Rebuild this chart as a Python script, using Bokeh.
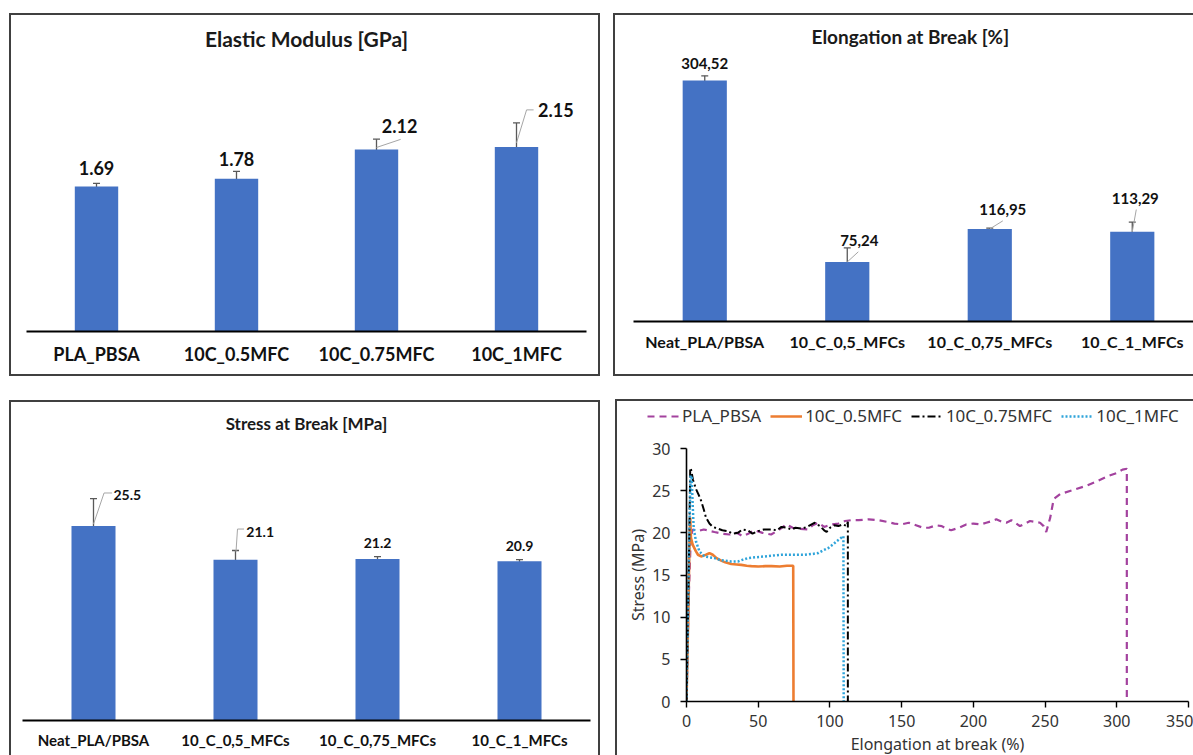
from bokeh.plotting import figure
from bokeh.models import (ColumnDataSource, Range1d, FixedTicker, Whisker, TeeHead,
                          Legend, LegendItem)
from bokeh.embed import file_html
from bokeh.resources import INLINE
from bokeh.core.properties import value

# ---------------- data ----------------
modulus_categories = ["PLA_PBSA", "10C_0.5MFC", "10C_0.75MFC", "10C_1MFC"]
modulus_values = [1.69, 1.78, 2.12, 2.15]
modulus_errors = [0.035, 0.085, 0.12, 0.28]
modulus_labels = ["1.69", "1.78", "2.12", "2.15"]

mfc_categories = ["Neat_PLA/PBSA", "10_C_0,5_MFCs", "10_C_0,75_MFCs", "10_C_1_MFCs"]
elongation_values = [304.52, 75.24, 116.95, 113.29]
elongation_errors = [6.0, 17.7, 1.0, 12.4]
elongation_labels = ["304,52", "75,24", "116,95", "113,29"]

stress_values = [25.5, 21.1, 21.2, 20.9]
stress_errors = [3.6, 1.2, 0.3, 0.2]
stress_labels = ["25.5", "21.1", "21.2", "20.9"]

curve_names = ["PLA_PBSA", "10C_0.5MFC", "10C_0.75MFC", "10C_1MFC"]

pla_strain = [0, 1.5, 3, 4.3, 7.8, 12, 19.5, 25, 30, 35, 39.3, 43, 47.5, 53, 59, 64, 69.7, 74,
              77.9, 84.9, 88, 91.9, 96, 101, 106, 110.5, 115, 120, 127, 134, 140, 145, 150, 155,
              160, 165, 169, 174, 178, 181, 184.5, 190, 195, 200, 205, 209, 213, 216, 220, 223,
              226.5, 230, 232.5, 236, 239.5, 243, 246.5, 249, 250.8, 252.3, 253.6, 256, 260.6,
              270, 279, 286, 293.5, 300, 304, 307, 307]
pla_stress = [0, 12, 19.5, 20.4, 20.2, 20.4, 20.1, 19.9, 19.8, 20.0, 19.6, 19.9, 20.3, 20.0, 19.8,
              20.3, 21.0, 20.6, 20.5, 20.4, 20.9, 21.2, 20.7, 21.0, 21.1, 21.4, 21.5, 21.5, 21.6,
              21.5, 21.3, 21.1, 21.0, 21.2, 20.9, 20.6, 20.6, 20.9, 20.8, 20.5, 20.3, 20.6, 21.0,
              21.1, 21.0, 21.2, 21.4, 21.6, 21.3, 21.2, 21.5, 21.1, 20.8, 21.1, 21.4, 21.3, 21.2,
              20.8, 20.1, 21.0, 21.8, 24.0, 24.6, 25.1, 25.6, 26.1, 26.7, 27.1, 27.5, 27.6, 0]

mfc05_strain = [0, 1.2, 2.2, 2.6, 3.1, 4.3, 6.6, 8, 10.2, 12, 13.6, 16, 18.3, 21, 24.2, 27, 31.2,
                35, 38.2, 42, 45.2, 50, 55, 59.2, 65, 70, 74.4, 74.6]
mfc05_stress = [0, 10, 20, 21.8, 19.4, 18.6, 17.8, 17.4, 17.2, 17.3, 17.4, 17.6, 17.4, 17.0, 16.7,
                16.5, 16.3, 16.25, 16.2, 16.1, 16.05, 16.0, 16.05, 16.05, 16.0, 16.1, 16.1, 0]

mfc075_strain = [0, 1, 2, 2.6, 3.2, 4.5, 6.6, 8.5, 10.2, 12, 13.6, 16, 18.3, 21.8, 25, 28.8, 32,
                 35.8, 39, 42.8, 46, 49.8, 54, 59.2, 63, 66.2, 70, 73.2, 76, 80.2, 84, 89.5, 93,
                 96, 97.7, 100, 103, 105.9, 109, 111.7, 112.5, 112.5]
mfc075_stress = [0, 10, 20, 27.7, 27.5, 26.3, 25.2, 24.5, 23.8, 22.8, 21.8, 21.1, 20.7, 20.5, 20.3,
                 20.2, 19.9, 20.0, 20.4, 20.3, 19.9, 20.2, 20.4, 20.4, 20.3, 20.7, 20.6, 20.4, 20.6,
                 20.5, 20.7, 21.2, 20.8, 20.3, 20.1, 20.6, 20.9, 20.8, 21.0, 20.8, 21.3, 0]

mfc1_strain = [0, 1.2, 2.2, 2.8, 3.6, 4.3, 5, 6.6, 9, 12.5, 16, 19.5, 23, 26.5, 31, 35.8, 39, 42.8,
               48, 54.5, 60, 66.2, 75, 82.5, 88, 91.9, 95, 98.9, 102, 104.7, 107, 109.4, 109.6]
mfc1_stress = [0, 12, 22, 26.8, 26.6, 23.4, 20.6, 19.0, 17.8, 17.2, 17.1, 17.0, 16.8, 16.7, 16.6,
               16.6, 16.8, 17.0, 17.1, 17.2, 17.3, 17.4, 17.4, 17.4, 17.5, 17.6, 17.9, 18.2, 18.6,
               19.0, 19.3, 19.6, 0]

# ---------------- styles ----------------
BAR_COLOR = "#4472C4"
ERR_COLOR = "#595959"
LEADER_COLOR = "#A6A6A6"
BORDER = "2px solid #404040"
BAR_FONT = "Lato"
CURVE_FONT = "Noto Sans"
CURVE_STYLES = [
    dict(line_color="#A3429E", line_width=2.2, line_dash="7 5"),
    dict(line_color="#ED7D31", line_width=2.6),
    dict(line_color="#000000", line_width=2, line_dash="8 3 2 3"),
    dict(line_color="#2FA4DA", line_width=2.5, line_dash="2 2"),
]


def box_styles(left, top, sides):
    st = {"position": "absolute", "left": f"{left}px", "top": f"{top}px"}
    for s in sides:
        st[f"border-{s}"] = BORDER
    return st


def bar_panel(cats, vals, errs, labels, title, width, height, borders, mb, x_end, y_end,
              title_size, title_standoff, cat_size, cat_standoff, val_size,
              label_offsets, leaders, styles, bar_width=0.31, title_align="center",
              title_offset=0, frame_h=None):
    left, right, top, bottom = mb
    bl, br, bt, bb = borders
    frame_w = width - bl - br - left - right
    if frame_h is None:
        frame_h = height - bt - bb - top - bottom
    xpx = frame_w / x_end
    ypx = frame_h / y_end
    pos = [i + 1 for i in range(len(cats))]
    p = figure(width=width, height=height, x_range=Range1d(0.5, 0.5 + x_end),
               y_range=Range1d(0, y_end), output_backend="svg", toolbar_location=None,
               y_axis_location=None, min_border_left=left, min_border_right=right,
               min_border_top=top, min_border_bottom=bottom, styles=styles,
               title=title)
    p.outline_line_color = None
    p.grid.visible = False
    p.title.align = title_align
    p.title.offset = title_offset
    p.title.text_font = BAR_FONT
    p.title.text_font_style = "bold"
    p.title.text_font_size = f"{title_size}px"
    p.title.text_color = "#1a1a1a"
    p.title.standoff = title_standoff

    src = ColumnDataSource(dict(
        x=pos, top=vals,
        upper=[v + e for v, e in zip(vals, errs)],
        lower=[v - e for v, e in zip(vals, errs)],
        lx=[x + dx / xpx for x, (dx, dy) in zip(pos, label_offsets)],
        ly=[v + dy / ypx for v, (dx, dy) in zip(vals, label_offsets)],
        label=labels,
    ))
    p.vbar(x="x", top="top", width=bar_width, source=src, fill_color=BAR_COLOR,
           line_color=None)

    xs, ys = [], []
    for i, pts in leaders.items():
        xs.append([pos[i] + dx / xpx for dx, dy in pts])
        ys.append([vals[i] + dy / ypx for dx, dy in pts])
    if xs:
        p.multi_line(xs=xs, ys=ys, line_color=LEADER_COLOR, line_width=1)

    w = Whisker(base="x", upper="upper", lower="lower", source=src,
                line_color=ERR_COLOR, line_width=1.3,
                upper_head=TeeHead(size=7, line_color=ERR_COLOR, line_width=1.3),
                lower_head=TeeHead(size=7, line_color=ERR_COLOR, line_width=1.3))
    p.add_layout(w)

    p.text(x="lx", y="ly", text="label", source=src, text_align="center",
           text_baseline="middle", text_font=value(BAR_FONT), text_font_style="bold",
           text_font_size=f"{val_size}px", text_color="#111111")

    ax = p.xaxis[0]
    ax.ticker = FixedTicker(ticks=pos)
    ax.major_label_overrides = {x: c for x, c in zip(pos, cats)}
    ax.major_tick_line_color = None
    ax.minor_tick_line_color = None
    ax.major_tick_out = 0
    ax.major_tick_in = 0
    ax.axis_line_color = "#000000"
    ax.axis_line_width = 2
    ax.major_label_text_font = BAR_FONT
    ax.major_label_text_font_style = "bold"
    ax.major_label_text_font_size = f"{cat_size}px"
    ax.major_label_text_color = "#111111"
    ax.major_label_standoff = cat_standoff
    return p


# Elastic modulus (top left) -- frame top set by the title block (~58 px)
p1 = bar_panel(modulus_categories, modulus_values, modulus_errors, modulus_labels,
               "Elastic Modulus [GPa]", width=591, height=363, borders=(2, 2, 2, 2),
               mb=(15, 16, 40, 47), x_end=4, y_end=3.18, title_size=21, title_standoff=16,
               cat_size=18, cat_standoff=11, val_size=18, frame_h=269,
               label_offsets=[(0, 18), (0, 19), (23, 23.5), (39, 36.5)],
               leaders={2: [(0, 2), (24, 10)], 3: [(0, 4), (10, 36.5), (17, 36.5)]},
               styles=box_styles(9, 13, ["left", "right", "top", "bottom"]))

# Elongation at break (top right)
p2 = bar_panel(mfc_categories, elongation_values, elongation_errors, elongation_labels,
               "Elongation at Break [%]", width=580, height=363, borders=(2, 0, 2, 2),
               mb=(18, 0, 37, 57), x_end=560 / 142, y_end=340, title_size=19,
               title_standoff=10, cat_size=16, cat_standoff=10, val_size=15,
               label_offsets=[(0, 17), (12, 21), (13, 19), (3, 33)],
               leaders={1: [(0, 0), (11, 10)], 2: [(0, 0), (13, 8)], 3: [(0, 0), (4, 22)]},
               styles=box_styles(613, 13, ["left", "top", "bottom"]),
               title_align="left", title_offset=178)

# Stress at break (bottom left)
p3 = bar_panel(mfc_categories, stress_values, stress_errors, stress_labels,
               "Stress at Break [MPa]", width=591, height=355, borders=(2, 2, 2, 0),
               mb=(11, 12, 38, 37), x_end=4, y_end=36.6, title_size=17, title_standoff=16,
               cat_size=15, cat_standoff=10, val_size=14,
               label_offsets=[(33.5, 31), (24.5, 27.5), (0, 16), (0, 15)],
               leaders={0: [(0, 2), (10.5, 33), (18.5, 33)],
                        1: [(0.5, 8), (2, 30.5), (8.5, 30.5)]},
               styles=box_styles(9, 400, ["left", "right", "top"]))

# Stress-strain curves (bottom right)
p4 = figure(width=578, height=356, x_range=Range1d(0, 350), y_range=Range1d(0, 30),
            output_backend="svg", toolbar_location=None, min_border_left=69,
            min_border_right=7, min_border_top=47, min_border_bottom=55,
            styles=box_styles(615, 399, ["left", "top"]))
p4.outline_line_color = None
p4.grid.visible = False

curve_x = [pla_strain, mfc05_strain, mfc075_strain, mfc1_strain]
curve_y = [pla_stress, mfc05_stress, mfc075_stress, mfc1_stress]
for xs_, ys_, st in zip(curve_x, curve_y, CURVE_STYLES):
    p4.line(xs_, ys_, **st)

for ax in (p4.xaxis[0], p4.yaxis[0]):
    ax.axis_line_color = "#000000"
    ax.axis_line_width = 1.6
    ax.major_tick_line_color = "#000000"
    ax.major_tick_line_width = 1.4
    ax.major_tick_in = 0
    ax.major_tick_out = 6
    ax.minor_tick_line_color = None
    ax.major_label_text_font = CURVE_FONT
    ax.major_label_text_font_size = "16px"
    ax.major_label_text_color = "#333333"
    ax.axis_label_text_font = CURVE_FONT
    ax.axis_label_text_font_size = "16px"
    ax.axis_label_text_font_style = "normal"
    ax.axis_label_text_color = "#333333"
p4.xaxis.ticker = FixedTicker(ticks=[0, 50, 100, 150, 200, 250, 300, 350])
p4.yaxis.ticker = FixedTicker(ticks=[0, 5, 10, 15, 20, 25, 30])
p4.xaxis.axis_label = "Elongation at break (%)"
p4.yaxis.axis_label = "Stress (MPa)"
p4.xaxis.major_label_standoff = 7
p4.yaxis.major_label_standoff = 10
p4.xaxis.axis_label_standoff = 3
p4.yaxis.axis_label_standoff = 0

# legend strip drawn over the top of the curve panel (its lines lie outside its view)
pl = figure(width=560, height=30, x_range=Range1d(-20, -10), y_range=Range1d(-20, -10),
            x_axis_location=None, y_axis_location=None, toolbar_location=None,
            output_backend="svg", min_border=0,
            styles={"position": "absolute", "left": "632px", "top": "404px"})
pl.outline_line_color = None
pl.grid.visible = False
pl.background_fill_alpha = 0
pl.border_fill_alpha = 0
legend_renderers = [pl.line(xs_, ys_, **st) for xs_, ys_, st in zip(curve_x, curve_y, CURVE_STYLES)]
legend = Legend(items=[LegendItem(label=n, renderers=[r]) for n, r in
                       zip(curve_names, legend_renderers)],
                orientation="horizontal", location=(15, 7), padding=0, margin=0,
                spacing=9, glyph_width=32, glyph_height=20, label_height=20,
                label_standoff=3, border_line_color=None, background_fill_alpha=0,
                label_text_font=CURVE_FONT, label_text_font_size="17px",
                label_text_color="#333333")
pl.add_layout(legend)

open("out.html", "w").write(file_html([p1, p2, p3, p4, pl], INLINE))
